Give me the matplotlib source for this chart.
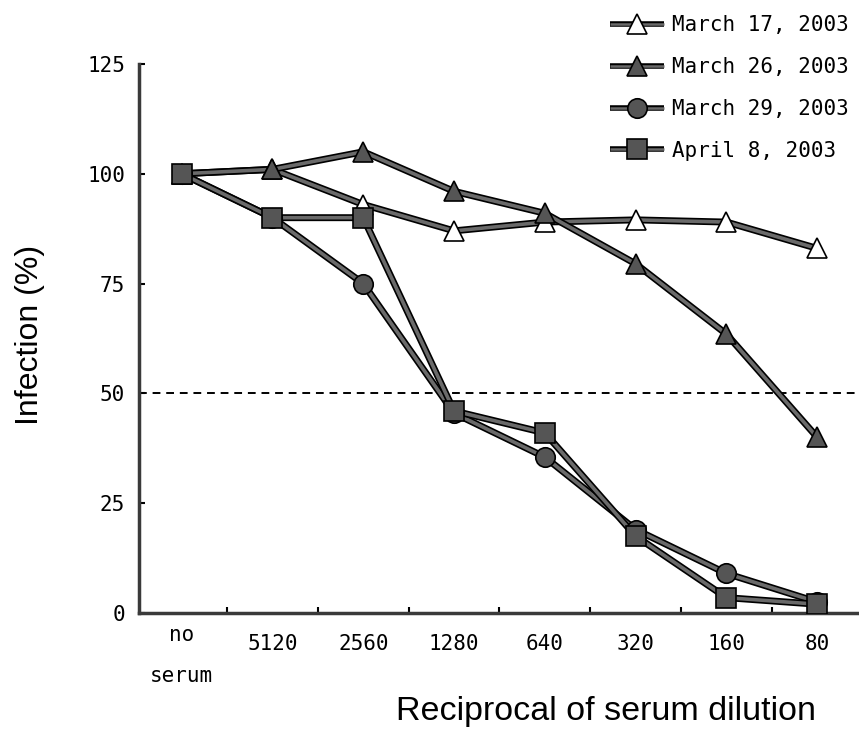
import matplotlib
matplotlib.use('Agg')
import matplotlib.pyplot as plt
import matplotlib.patheffects as pe
from matplotlib.lines import Line2D
from matplotlib.legend_handler import HandlerTuple
import numpy as np

# categories on the x axis (reciprocal of serum dilution)
dilutions = ['no\nserum', '5120', '2560', '1280', '640', '320', '160', '80']

# infection (%)
mar17 = [100, 101, 93, 87, 89, 89.5, 89, 83]
mar26 = [100, 101, 105, 96, 91, 79.5, 63.5, 40]
mar29 = [100, 90, 75, 45.5, 35.5, 19, 9, 2.5]
apr08 = [100, 90, 90, 46, 41, 17.5, 3.5, 2]

labels = ['March 17, 2003', 'March 26, 2003', 'March 29, 2003', 'April 8, 2003']

mono = 'DejaVu Sans Mono'
line_fx = [pe.Stroke(linewidth=5, foreground='black'),
           pe.Stroke(linewidth=2.6, foreground='#6a6a6a')]
leg_fx = [pe.Stroke(linewidth=4, foreground='black'),
          pe.Stroke(linewidth=1.8, foreground='#6a6a6a')]

fig = plt.figure(figsize=(8.59, 7.4), dpi=100)
ax = fig.add_axes([0.1618, 0.1716, 0.8382, 0.742])

x = np.arange(len(dilutions))
series = [mar17, mar26, mar29, apr08]
markers = ['^', '^', 'o', 's']
faces = ['white', '#555555', '#555555', '#555555']
sizes = [15, 15, 14, 14]

handles = []
for i in range(4):
    ax.plot(x, series[i], color='black', lw=1, path_effects=line_fx, zorder=2 + i)
    ax.plot(x, series[i], ls='none', marker=markers[i], ms=sizes[i],
            mfc=faces[i], mec='black', mew=1.2, zorder=10 + i)
    hl = Line2D([], [], color='black', lw=1, path_effects=leg_fx, solid_capstyle='butt')
    hm = Line2D([], [], ls='none', marker=markers[i], ms=sizes[i],
                mfc=faces[i], mec='black', mew=1.2)
    handles.append((hl, hm))

ax.axhline(50, color='black', ls=(0, (4, 3)), lw=1.4, zorder=1)

ax.set_xlim(-0.47, 7.46)
ax.set_ylim(0, 125)
ax.set_yticks([0, 25, 50, 75, 100, 125])
ax.set_xticks(x)
ax.set_xticklabels([''] + dilutions[1:], family=mono, fontsize=15)
ax.set_xticks(x[:-1] + 0.5, minor=True)
ax.tick_params(axis='x', which='major', length=0, pad=15)
ax.tick_params(axis='x', which='minor', direction='in', length=4, width=1.5)
ax.tick_params(axis='y', direction='in', length=4, width=1.5, pad=10)
for t in ax.get_yticklabels():
    t.set_family(mono)
    t.set_fontsize(15)

# two-line first category label sits a little higher than the numbers
ax.text(0, -0.022, dilutions[0], transform=ax.get_xaxis_transform(),
        ha='center', va='top', family=mono, fontsize=15, linespacing=2.3)

for s in ['top', 'right']:
    ax.spines[s].set_visible(False)
for s in ['left', 'bottom']:
    ax.spines[s].set_linewidth(2.5)
    ax.spines[s].set_color('#3a3a3a')

fig.text(0.035, 0.548, 'Infection (%)', fontsize=23, family='Liberation Sans',
         rotation=90, ha='center', va='center')
fig.text(0.706, 0.038, 'Reciprocal of serum dilution', fontsize=24.5,
         family='Liberation Sans', ha='center', va='center')

leg = fig.legend(handles, labels, loc='upper right', bbox_to_anchor=(1.01, 1.005),
                 frameon=False, prop={'family': mono, 'size': 15},
                 handler_map={tuple: HandlerTuple(ndivide=1, pad=0)},
                 handlelength=2.6, handletextpad=0.4, labelspacing=1.05)

fig.savefig('out.png', dpi=100)
